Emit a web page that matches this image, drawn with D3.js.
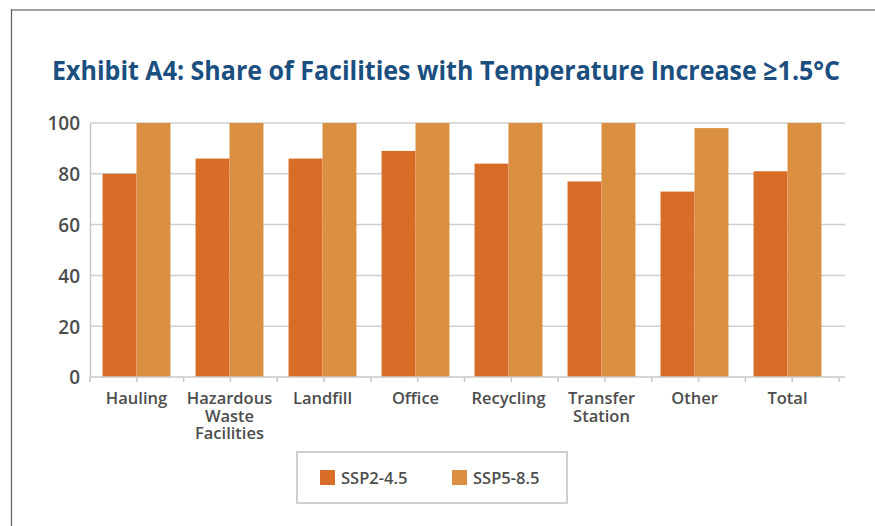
<!DOCTYPE html>
<html>
<head>
<meta charset="utf-8">
<script src="https://cdn.jsdelivr.net/npm/d3@7"></script>
<style>
  body { margin: 0; background: #fff; }
  svg { display: block; font-family: 'Open Sans', sans-serif; }
</style>
</head>
<body>
<svg id="chart"></svg>
<script>
var width = 875
var height = 526
var margin = { top: 123, bottom: 149, left: 90, right: 36 }

var categories = ['Hauling', 'Hazardous\nWaste\nFacilities', 'Landfill', 'Office', 'Recycling', 'Transfer\nStation', 'Other', 'Total']
var seriesNames = ['SSP2-4.5', 'SSP5-8.5']
var ssp245 = [80, 86, 86, 89, 84, 77, 73, 81]
var ssp585 = [100, 100, 100, 100, 100, 100, 98, 100]
var yTicks = [0, 20, 40, 60, 80, 100]
var colors = ['#d76d27', '#db8f41']

var data = categories.map((c, i) => ({ cat: c, values: [ssp245[i], ssp585[i]] }))

var svg = d3.select('#chart')
  .attr('width', width)
  .attr('height', height)

// frame
svg.append('line')
  .attr('x1', 11).attr('x2', width).attr('y1', 10).attr('y2', 10)
  .attr('stroke', '#a3a3a3').attr('stroke-width', 2)
svg.append('line')
  .attr('x1', 11.5).attr('x2', 11.5).attr('y1', 9).attr('y2', height)
  .attr('stroke', '#666').attr('stroke-width', 1.3)

svg.append('text')
  .attr('x', 446).attr('y', 80)
  .attr('text-anchor', 'middle')
  .attr('font-size', 27.5)
  .attr('font-weight', 700)
  .attr('fill', '#1b4f7f')
  .attr('textLength', 788)
  .attr('lengthAdjust', 'spacingAndGlyphs')
  .text('Exhibit A4: Share of Facilities with Temperature Increase \u22651.5\u00b0C')

var plotLeft = margin.left
var plotRight = width - margin.right

// bars sit on a slightly narrower band than the tick grid
var xScale = d3.scaleBand()
  .domain(categories)
  .range([90, 834])
  .paddingInner(0.27)
  .paddingOuter(0.135)

var xTicks = d3.scaleBand()
  .domain(categories)
  .range([plotLeft, plotRight])

var xInner = d3.scaleBand()
  .domain(seriesNames)
  .range([0, xScale.bandwidth()])

var yScale = d3.scaleLinear()
  .domain([0, 100])
  .range([height - margin.bottom, margin.top])

// gridlines
svg.append('g')
  .selectAll('line')
  .data(yTicks.filter(d => d > 0))
  .enter().append('line')
  .attr('x1', plotLeft).attr('x2', plotRight + 6)
  .attr('y1', d => yScale(d)).attr('y2', d => yScale(d))
  .attr('stroke', '#cfcfcf').attr('stroke-width', 1.5)

// bars
var groups = svg.append('g')
  .selectAll('g')
  .data(data)
  .enter().append('g')
  .attr('transform', d => 'translate(' + xScale(d.cat) + ',0)')

groups.selectAll('rect')
  .data(d => d.values.map((v, i) => ({ key: seriesNames[i], v: v, i: i })))
  .enter().append('rect')
  .attr('x', d => xInner(d.key))
  .attr('width', xInner.bandwidth())
  .attr('y', d => yScale(d.v))
  .attr('height', d => yScale(0) - yScale(d.v))
  .attr('fill', d => colors[d.i])

// y axis
var yAxis = d3.axisLeft(yScale).tickValues(yTicks).tickSize(0).tickPadding(10)
var yg = svg.append('g')
  .attr('transform', 'translate(' + plotLeft + ',0)')
  .call(yAxis)
yg.select('.domain').attr('stroke', '#c8c8c8').attr('stroke-width', 1.5)
yg.selectAll('text')
  .attr('font-size', 19)
  .attr('font-weight', 600)
  .attr('fill', '#4d4d4d')
  .attr('font-family', 'Open Sans')
  .attr('dy', '0.36em')

// x axis line
svg.append('line')
  .attr('x1', plotLeft).attr('x2', plotRight + 6)
  .attr('y1', yScale(0)).attr('y2', yScale(0))
  .attr('stroke', '#c8c8c8').attr('stroke-width', 1.5)

// ticks at band boundaries and centres
var tickXs = []
categories.forEach(c => {
  tickXs.push(xTicks(c))
  tickXs.push(xTicks(c) + xTicks.bandwidth() / 2)
})
tickXs.push(plotRight)
svg.append('g')
  .selectAll('line')
  .data(tickXs)
  .enter().append('line')
  .attr('x1', d => d).attr('x2', d => d)
  .attr('y1', yScale(0)).attr('y2', yScale(0) + 5)
  .attr('stroke', '#c8c8c8').attr('stroke-width', 1.5)

// category labels
var labels = svg.append('g')
  .selectAll('text')
  .data(categories)
  .enter().append('text')
  .attr('text-anchor', 'middle')
  .attr('font-size', 16.5)
  .attr('font-weight', 600)
  .attr('fill', '#4d4d4d')
  .attr('y', 404)
labels.each(function(d) {
  var t = d3.select(this)
  d.split('\n').forEach((line, j) => {
    t.append('tspan')
      .attr('x', xScale(d) + xScale.bandwidth() / 2)
      .attr('dy', j === 0 ? 0 : 17.5)
      .text(line)
  })
})

// legend
var legend = svg.append('g')
legend.append('rect')
  .attr('x', 297).attr('y', 452)
  .attr('width', 270).attr('height', 51)
  .attr('fill', 'none')
  .attr('stroke', '#cfcfcf').attr('stroke-width', 2)

var legendX = [320, 452]
seriesNames.forEach((s, i) => {
  legend.append('rect')
    .attr('x', legendX[i]).attr('y', 470)
    .attr('width', 15).attr('height', 15)
    .attr('fill', colors[i])
  legend.append('text')
    .attr('x', legendX[i] + 21).attr('y', 484)
    .attr('font-size', 16.5)
    .attr('font-weight', 600)
    .attr('fill', '#4d4d4d')
    .text(s)
})
</script>
</body>
</html>
